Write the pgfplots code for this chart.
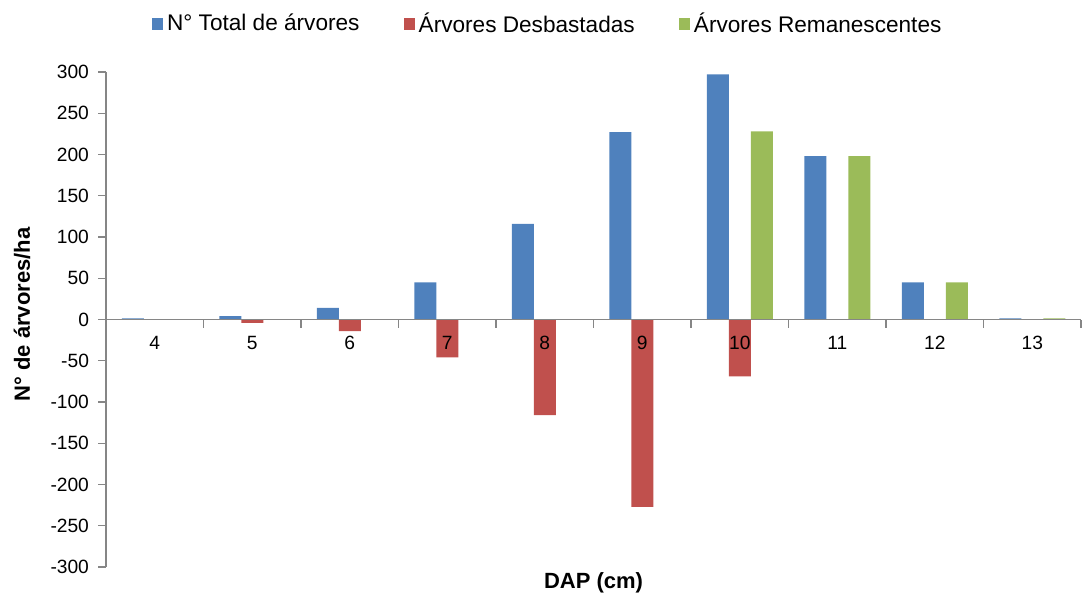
\documentclass[border=0pt]{standalone}
\usepackage{fontspec}
\setmainfont{Liberation Sans}
\usepackage{pgfplots}
\pgfplotsset{compat=1.18}
\definecolor{xblue}{HTML}{4F81BD}
\definecolor{xred}{HTML}{C0504D}
\definecolor{xgreen}{HTML}{9BBB59}
\definecolor{axgray}{HTML}{868686}
\begin{document}
\begin{tikzpicture}
\begin{axis}[
  at={(53pt,13.5pt)}, anchor=south west,
  scale only axis, width=487.5pt, height=247.5pt,
  xmin=-0.5, xmax=9.5, ymin=-300, ymax=300,
  axis x line*=middle, axis y line*=left,
  axis on top,
  axis line style={axgray, line width=0.6pt},
  xtick={0,...,9}, xticklabels={4,5,6,7,8,9,10,11,12,13},
  major x tick style={draw=none},
  minor xtick={-0.5,0.5,...,9.5},
  minor x tick style={axgray, line width=0.6pt},
  minor tick length=4pt,
  ytick={-300,-250,...,300},
  yticklabels={-300,-250,-200,-150,-100,-50,0,50,100,150,200,250,300},
  major y tick style={axgray, line width=0.6pt},
  major tick length=4pt,
  tick align=outside,
  ticklabel style={font=\fontsize{9.6}{10}\selectfont, text=black},
  xticklabel style={yshift=-1pt},
  yticklabel style={xshift=-1pt},
  ybar, bar width=11pt,
  xlabel={\textbf{DAP (cm)}},
  ylabel={\textbf{N° de árvores/ha}},
  label style={font=\fontsize{11}{12}\selectfont},
  xlabel style={at={(axis description cs:0.5,-0.032)}, anchor=center},
  ylabel style={at={(axis description cs:-0.086,0.51)}, anchor=center},
  legend style={at={(axis description cs:0.454,1.097)}, anchor=center, draw=none,
    font=\fontsize{11.3}{12}\selectfont, legend columns=3,
    /tikz/every even column/.append style={column sep=20pt}},
  legend image code/.code={\fill[#1] (0pt,-2.8pt) rectangle (5.6pt,2.8pt);},
]
\addplot[fill=xblue, draw=none, bar shift=-11pt] coordinates {
 (0,1.5) (1,4) (2,14) (3,45) (4,116) (5,227) (6,297) (7,198) (8,45) (9,1.5)};
\addplot[fill=xred, draw=none, bar shift=0pt] coordinates {
 (0,0) (1,-4) (2,-14) (3,-46) (4,-116) (5,-227) (6,-69) (7,0) (8,0) (9,0)};
\addplot[fill=xgreen, draw=none, bar shift=11pt] coordinates {
 (0,0) (1,0) (2,0) (3,0) (4,0) (5,0) (6,228) (7,198) (8,45) (9,1.5)};
\legend{N° Total de árvores, Árvores Desbastadas, Árvores Remanescentes}
\end{axis}
\pgfresetboundingbox
\useasboundingbox (0,0) rectangle (543pt,297pt);
\end{tikzpicture}
\end{document}
